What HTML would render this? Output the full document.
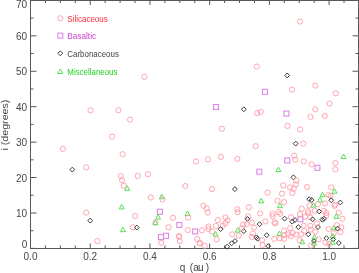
<!DOCTYPE html>
<html><head><meta charset="utf-8"><style>
html,body{margin:0;padding:0;background:#fff;width:359px;height:273px;overflow:hidden}
svg{display:block;will-change:transform}
text{font-family:"Liberation Sans",sans-serif}
</style></head><body>
<svg width="359" height="273" viewBox="0 0 359 273" font-family="Liberation Sans, sans-serif"><rect x="30.5" y="0.5" width="328" height="248" fill="none" stroke="#585858" stroke-width="1"/><line x1="30.50" y1="248.5" x2="30.50" y2="243.5" stroke="#585858"/><line x1="30.50" y1="0" x2="30.50" y2="5" stroke="#585858"/><line x1="45.43" y1="248.5" x2="45.43" y2="245.5" stroke="#585858"/><line x1="45.43" y1="0" x2="45.43" y2="3" stroke="#585858"/><line x1="60.36" y1="248.5" x2="60.36" y2="245.5" stroke="#585858"/><line x1="60.36" y1="0" x2="60.36" y2="3" stroke="#585858"/><line x1="75.29" y1="248.5" x2="75.29" y2="245.5" stroke="#585858"/><line x1="75.29" y1="0" x2="75.29" y2="3" stroke="#585858"/><line x1="90.22" y1="248.5" x2="90.22" y2="243.5" stroke="#585858"/><line x1="90.22" y1="0" x2="90.22" y2="5" stroke="#585858"/><line x1="105.15" y1="248.5" x2="105.15" y2="245.5" stroke="#585858"/><line x1="105.15" y1="0" x2="105.15" y2="3" stroke="#585858"/><line x1="120.08" y1="248.5" x2="120.08" y2="245.5" stroke="#585858"/><line x1="120.08" y1="0" x2="120.08" y2="3" stroke="#585858"/><line x1="135.01" y1="248.5" x2="135.01" y2="245.5" stroke="#585858"/><line x1="135.01" y1="0" x2="135.01" y2="3" stroke="#585858"/><line x1="149.94" y1="248.5" x2="149.94" y2="243.5" stroke="#585858"/><line x1="149.94" y1="0" x2="149.94" y2="5" stroke="#585858"/><line x1="164.87" y1="248.5" x2="164.87" y2="245.5" stroke="#585858"/><line x1="164.87" y1="0" x2="164.87" y2="3" stroke="#585858"/><line x1="179.80" y1="248.5" x2="179.80" y2="245.5" stroke="#585858"/><line x1="179.80" y1="0" x2="179.80" y2="3" stroke="#585858"/><line x1="194.73" y1="248.5" x2="194.73" y2="245.5" stroke="#585858"/><line x1="194.73" y1="0" x2="194.73" y2="3" stroke="#585858"/><line x1="209.66" y1="248.5" x2="209.66" y2="243.5" stroke="#585858"/><line x1="209.66" y1="0" x2="209.66" y2="5" stroke="#585858"/><line x1="224.59" y1="248.5" x2="224.59" y2="245.5" stroke="#585858"/><line x1="224.59" y1="0" x2="224.59" y2="3" stroke="#585858"/><line x1="239.52" y1="248.5" x2="239.52" y2="245.5" stroke="#585858"/><line x1="239.52" y1="0" x2="239.52" y2="3" stroke="#585858"/><line x1="254.45" y1="248.5" x2="254.45" y2="245.5" stroke="#585858"/><line x1="254.45" y1="0" x2="254.45" y2="3" stroke="#585858"/><line x1="269.38" y1="248.5" x2="269.38" y2="243.5" stroke="#585858"/><line x1="269.38" y1="0" x2="269.38" y2="5" stroke="#585858"/><line x1="284.31" y1="248.5" x2="284.31" y2="245.5" stroke="#585858"/><line x1="284.31" y1="0" x2="284.31" y2="3" stroke="#585858"/><line x1="299.24" y1="248.5" x2="299.24" y2="245.5" stroke="#585858"/><line x1="299.24" y1="0" x2="299.24" y2="3" stroke="#585858"/><line x1="314.17" y1="248.5" x2="314.17" y2="245.5" stroke="#585858"/><line x1="314.17" y1="0" x2="314.17" y2="3" stroke="#585858"/><line x1="329.10" y1="248.5" x2="329.10" y2="243.5" stroke="#585858"/><line x1="329.10" y1="0" x2="329.10" y2="5" stroke="#585858"/><line x1="344.03" y1="248.5" x2="344.03" y2="245.5" stroke="#585858"/><line x1="344.03" y1="0" x2="344.03" y2="3" stroke="#585858"/><line x1="30.5" y1="248.40" x2="36.5" y2="248.40" stroke="#585858"/><line x1="358.5" y1="248.40" x2="352.5" y2="248.40" stroke="#585858"/><line x1="30.5" y1="230.69" x2="33.5" y2="230.69" stroke="#585858"/><line x1="358.5" y1="230.69" x2="355.5" y2="230.69" stroke="#585858"/><line x1="30.5" y1="212.97" x2="36.5" y2="212.97" stroke="#585858"/><line x1="358.5" y1="212.97" x2="352.5" y2="212.97" stroke="#585858"/><line x1="30.5" y1="195.25" x2="33.5" y2="195.25" stroke="#585858"/><line x1="358.5" y1="195.25" x2="355.5" y2="195.25" stroke="#585858"/><line x1="30.5" y1="177.54" x2="36.5" y2="177.54" stroke="#585858"/><line x1="358.5" y1="177.54" x2="352.5" y2="177.54" stroke="#585858"/><line x1="30.5" y1="159.82" x2="33.5" y2="159.82" stroke="#585858"/><line x1="358.5" y1="159.82" x2="355.5" y2="159.82" stroke="#585858"/><line x1="30.5" y1="142.11" x2="36.5" y2="142.11" stroke="#585858"/><line x1="358.5" y1="142.11" x2="352.5" y2="142.11" stroke="#585858"/><line x1="30.5" y1="124.39" x2="33.5" y2="124.39" stroke="#585858"/><line x1="358.5" y1="124.39" x2="355.5" y2="124.39" stroke="#585858"/><line x1="30.5" y1="106.68" x2="36.5" y2="106.68" stroke="#585858"/><line x1="358.5" y1="106.68" x2="352.5" y2="106.68" stroke="#585858"/><line x1="30.5" y1="88.97" x2="33.5" y2="88.97" stroke="#585858"/><line x1="358.5" y1="88.97" x2="355.5" y2="88.97" stroke="#585858"/><line x1="30.5" y1="71.25" x2="36.5" y2="71.25" stroke="#585858"/><line x1="358.5" y1="71.25" x2="352.5" y2="71.25" stroke="#585858"/><line x1="30.5" y1="53.53" x2="33.5" y2="53.53" stroke="#585858"/><line x1="358.5" y1="53.53" x2="355.5" y2="53.53" stroke="#585858"/><line x1="30.5" y1="35.82" x2="36.5" y2="35.82" stroke="#585858"/><line x1="358.5" y1="35.82" x2="352.5" y2="35.82" stroke="#585858"/><line x1="30.5" y1="18.10" x2="33.5" y2="18.10" stroke="#585858"/><line x1="358.5" y1="18.10" x2="355.5" y2="18.10" stroke="#585858"/><line x1="30.5" y1="0.39" x2="36.5" y2="0.39" stroke="#585858"/><line x1="358.5" y1="0.39" x2="352.5" y2="0.39" stroke="#585858"/><text x="27.2" y="248.40" fill="#474747" font-size="10" text-anchor="end" >0</text><text x="27.2" y="216.97" fill="#474747" font-size="10" text-anchor="end" >10</text><text x="27.2" y="181.54" fill="#474747" font-size="10" text-anchor="end" >20</text><text x="27.2" y="146.11" fill="#474747" font-size="10" text-anchor="end" >30</text><text x="27.2" y="110.68" fill="#474747" font-size="10" text-anchor="end" >40</text><text x="27.2" y="75.25" fill="#474747" font-size="10" text-anchor="end" >50</text><text x="27.2" y="39.82" fill="#474747" font-size="10" text-anchor="end" >60</text><text x="27.2" y="7.60" fill="#474747" font-size="10" text-anchor="end" textLength="11.3" lengthAdjust="spacingAndGlyphs" >70</text><text x="30.50" y="259.5" fill="#474747" font-size="10" text-anchor="middle" >0.0</text><text x="90.22" y="259.5" fill="#474747" font-size="10" text-anchor="middle" >0.2</text><text x="149.94" y="259.5" fill="#474747" font-size="10" text-anchor="middle" >0.4</text><text x="209.66" y="259.5" fill="#474747" font-size="10" text-anchor="middle" >0.6</text><text x="269.38" y="259.5" fill="#474747" font-size="10" text-anchor="middle" >0.8</text><text x="329.10" y="259.5" fill="#474747" font-size="10" text-anchor="middle" >1.0</text><text x="179.7 189.7 193.2 198.1 205.7" y="271" fill="#474747" font-size="10">q(au)</text><text x="0" y="0" fill="#474747" font-size="9.6" textLength="51" lengthAdjust="spacingAndGlyphs" transform="translate(8.3,150.6) rotate(-90)">i (degrees)</text><circle cx="60.3" cy="18.3" r="2.6" fill="none" stroke="#ff96a2" stroke-width="0.85"/><text x="67.3" y="21.6" fill="#ff2a3c" font-size="8.8" text-anchor="start" textLength="40.4" lengthAdjust="spacingAndGlyphs" >Silicaceous</text><rect x="57.80" y="33.10" width="5" height="5" fill="none" stroke="#e088e6" stroke-width="1.1"/><text x="67.3" y="39.0" fill="#cc44cc" font-size="8.8" text-anchor="start" textLength="28.8" lengthAdjust="spacingAndGlyphs" >Basaltic</text><path d="M60.3 50.85L62.70 53.3L60.3 55.75L57.90 53.3Z" fill="none" stroke="#3a3a3a" stroke-width="1" stroke-linejoin="round"/><text x="67.3" y="56.9" fill="#444" font-size="8.8" text-anchor="start" textLength="51.6" lengthAdjust="spacingAndGlyphs" >Carbonaceous</text><path d="M60.3 69.00L62.80 73.50L57.80 73.50Z" fill="none" stroke="#55e055" stroke-width="1.0" stroke-linejoin="round"/><text x="67.3" y="74.5" fill="#22d022" font-size="8.8" text-anchor="start" textLength="50.2" lengthAdjust="spacingAndGlyphs" >Miscellaneous</text><circle cx="300" cy="21.5" r="2.6" fill="none" stroke="#ff96a2" stroke-width="0.85"/><circle cx="256.8" cy="66.6" r="2.6" fill="none" stroke="#ff96a2" stroke-width="0.85"/><path d="M287.2 72.95L289.60 75.4L287.2 77.85L284.80 75.4Z" fill="none" stroke="#3a3a3a" stroke-width="1" stroke-linejoin="round"/><circle cx="144.4" cy="76.8" r="2.6" fill="none" stroke="#ff96a2" stroke-width="0.85"/><rect x="262.50" y="89.30" width="5" height="5" fill="none" stroke="#e088e6" stroke-width="1.1"/><circle cx="292" cy="89.6" r="2.6" fill="none" stroke="#ff96a2" stroke-width="0.85"/><circle cx="315.3" cy="85.6" r="2.6" fill="none" stroke="#ff96a2" stroke-width="0.85"/><circle cx="335.7" cy="93.3" r="2.6" fill="none" stroke="#ff96a2" stroke-width="0.85"/><circle cx="329.6" cy="103.5" r="2.6" fill="none" stroke="#ff96a2" stroke-width="0.85"/><rect x="213.50" y="104.50" width="5" height="5" fill="none" stroke="#e088e6" stroke-width="1.1"/><path d="M243.8 106.85L246.20 109.3L243.8 111.75L241.40 109.3Z" fill="none" stroke="#3a3a3a" stroke-width="1" stroke-linejoin="round"/><circle cx="257.2" cy="113.1" r="2.6" fill="none" stroke="#ff96a2" stroke-width="0.85"/><circle cx="260.7" cy="111.9" r="2.6" fill="none" stroke="#ff96a2" stroke-width="0.85"/><rect x="283.90" y="111.10" width="5" height="5" fill="none" stroke="#e088e6" stroke-width="1.1"/><circle cx="315.3" cy="109.3" r="2.6" fill="none" stroke="#ff96a2" stroke-width="0.85"/><circle cx="310.5" cy="116.9" r="2.6" fill="none" stroke="#ff96a2" stroke-width="0.85"/><circle cx="324.8" cy="115.9" r="2.6" fill="none" stroke="#ff96a2" stroke-width="0.85"/><circle cx="90.5" cy="110.4" r="2.6" fill="none" stroke="#ff96a2" stroke-width="0.85"/><circle cx="118.4" cy="110.3" r="2.6" fill="none" stroke="#ff96a2" stroke-width="0.85"/><circle cx="130" cy="119.6" r="2.6" fill="none" stroke="#ff96a2" stroke-width="0.85"/><circle cx="112.1" cy="136.6" r="2.6" fill="none" stroke="#ff96a2" stroke-width="0.85"/><circle cx="122.6" cy="154.2" r="2.6" fill="none" stroke="#ff96a2" stroke-width="0.85"/><circle cx="62.9" cy="148.9" r="2.6" fill="none" stroke="#ff96a2" stroke-width="0.85"/><circle cx="221.9" cy="128.8" r="2.6" fill="none" stroke="#ff96a2" stroke-width="0.85"/><circle cx="287.4" cy="125.9" r="2.6" fill="none" stroke="#ff96a2" stroke-width="0.85"/><circle cx="300.2" cy="129.4" r="2.6" fill="none" stroke="#ff96a2" stroke-width="0.85"/><path d="M295.7 141.15L298.10 143.6L295.7 146.05L293.30 143.6Z" fill="none" stroke="#3a3a3a" stroke-width="1" stroke-linejoin="round"/><circle cx="303.2" cy="143.6" r="2.6" fill="none" stroke="#ff96a2" stroke-width="0.85"/><circle cx="255.6" cy="146.2" r="2.6" fill="none" stroke="#ff96a2" stroke-width="0.85"/><path d="M72.3 167.15L74.70 169.6L72.3 172.05L69.90 169.6Z" fill="none" stroke="#3a3a3a" stroke-width="1" stroke-linejoin="round"/><circle cx="86.2" cy="167.4" r="2.6" fill="none" stroke="#ff96a2" stroke-width="0.85"/><circle cx="120.8" cy="176.1" r="2.6" fill="none" stroke="#ff96a2" stroke-width="0.85"/><circle cx="122.1" cy="180.4" r="2.6" fill="none" stroke="#ff96a2" stroke-width="0.85"/><circle cx="123.7" cy="185.8" r="2.6" fill="none" stroke="#ff96a2" stroke-width="0.85"/><path d="M127.2 185.80L129.70 190.30L124.70 190.30Z" fill="none" stroke="#55e055" stroke-width="1.0" stroke-linejoin="round"/><circle cx="137.7" cy="175.9" r="2.6" fill="none" stroke="#ff96a2" stroke-width="0.85"/><circle cx="147.9" cy="174.2" r="2.6" fill="none" stroke="#ff96a2" stroke-width="0.85"/><circle cx="196.1" cy="161.4" r="2.6" fill="none" stroke="#ff96a2" stroke-width="0.85"/><circle cx="208" cy="159.4" r="2.6" fill="none" stroke="#ff96a2" stroke-width="0.85"/><circle cx="185.3" cy="186" r="2.6" fill="none" stroke="#ff96a2" stroke-width="0.85"/><circle cx="220.9" cy="156.9" r="2.6" fill="none" stroke="#ff96a2" stroke-width="0.85"/><circle cx="237.3" cy="158.9" r="2.6" fill="none" stroke="#ff96a2" stroke-width="0.85"/><rect x="256.80" y="169.20" width="5" height="5" fill="none" stroke="#e088e6" stroke-width="1.1"/><circle cx="212.1" cy="189.1" r="2.6" fill="none" stroke="#ff96a2" stroke-width="0.85"/><path d="M234.9 186.65L237.30 189.1L234.9 191.55L232.50 189.1Z" fill="none" stroke="#3a3a3a" stroke-width="1" stroke-linejoin="round"/><circle cx="267.5" cy="192.7" r="2.6" fill="none" stroke="#ff96a2" stroke-width="0.85"/><circle cx="294.1" cy="155.6" r="2.6" fill="none" stroke="#ff96a2" stroke-width="0.85"/><circle cx="295.3" cy="159.9" r="2.6" fill="none" stroke="#ff96a2" stroke-width="0.85"/><rect x="284.70" y="157.90" width="5" height="5" fill="none" stroke="#e088e6" stroke-width="1.1"/><circle cx="303.8" cy="161.4" r="2.6" fill="none" stroke="#ff96a2" stroke-width="0.85"/><circle cx="311.6" cy="164.3" r="2.6" fill="none" stroke="#ff96a2" stroke-width="0.85"/><rect x="314.90" y="165.30" width="5" height="5" fill="none" stroke="#e088e6" stroke-width="1.1"/><path d="M278.4 167.10L280.90 171.60L275.90 171.60Z" fill="none" stroke="#55e055" stroke-width="1.0" stroke-linejoin="round"/><path d="M293.4 174.85L295.80 177.3L293.4 179.75L291.00 177.3Z" fill="none" stroke="#3a3a3a" stroke-width="1" stroke-linejoin="round"/><circle cx="296.3" cy="180.6" r="2.6" fill="none" stroke="#ff96a2" stroke-width="0.85"/><circle cx="296" cy="184.4" r="2.6" fill="none" stroke="#ff96a2" stroke-width="0.85"/><circle cx="283.2" cy="185.4" r="2.6" fill="none" stroke="#ff96a2" stroke-width="0.85"/><circle cx="290.1" cy="187.4" r="2.6" fill="none" stroke="#ff96a2" stroke-width="0.85"/><circle cx="293.7" cy="188.7" r="2.6" fill="none" stroke="#ff96a2" stroke-width="0.85"/><circle cx="292.3" cy="192.9" r="2.6" fill="none" stroke="#ff96a2" stroke-width="0.85"/><circle cx="282" cy="193.6" r="2.6" fill="none" stroke="#ff96a2" stroke-width="0.85"/><circle cx="307.1" cy="187" r="2.6" fill="none" stroke="#ff96a2" stroke-width="0.85"/><path d="M343.5 154.00L346.00 158.50L341.00 158.50Z" fill="none" stroke="#55e055" stroke-width="1.0" stroke-linejoin="round"/><circle cx="335.3" cy="163" r="2.6" fill="none" stroke="#ff96a2" stroke-width="0.85"/><circle cx="335.3" cy="169.4" r="2.6" fill="none" stroke="#ff96a2" stroke-width="0.85"/><circle cx="86.2" cy="212.6" r="2.6" fill="none" stroke="#ff96a2" stroke-width="0.85"/><path d="M90.2 218.15L92.60 220.6L90.2 223.05L87.80 220.6Z" fill="none" stroke="#3a3a3a" stroke-width="1" stroke-linejoin="round"/><path d="M121.7 204.40L124.20 208.90L119.20 208.90Z" fill="none" stroke="#55e055" stroke-width="1.0" stroke-linejoin="round"/><path d="M122.9 227.20L125.40 231.70L120.40 231.70Z" fill="none" stroke="#55e055" stroke-width="1.0" stroke-linejoin="round"/><circle cx="135.1" cy="216" r="2.6" fill="none" stroke="#ff96a2" stroke-width="0.85"/><circle cx="132.8" cy="227.3" r="2.6" fill="none" stroke="#ff96a2" stroke-width="0.85"/><path d="M136.8 225.15L139.20 227.6L136.8 230.05L134.40 227.6Z" fill="none" stroke="#3a3a3a" stroke-width="1" stroke-linejoin="round"/><circle cx="97.4" cy="241.1" r="2.6" fill="none" stroke="#ff96a2" stroke-width="0.85"/><circle cx="150.8" cy="197.5" r="2.6" fill="none" stroke="#ff96a2" stroke-width="0.85"/><path d="M161.8 194.20L164.30 198.70L159.30 198.70Z" fill="none" stroke="#55e055" stroke-width="1.0" stroke-linejoin="round"/><circle cx="162.5" cy="199.5" r="2.6" fill="none" stroke="#ff96a2" stroke-width="0.85"/><rect x="157.40" y="209.20" width="5" height="5" fill="none" stroke="#e088e6" stroke-width="1.1"/><path d="M158.1 214.60L160.60 219.10L155.60 219.10Z" fill="none" stroke="#55e055" stroke-width="1.0" stroke-linejoin="round"/><circle cx="155.4" cy="222.4" r="2.6" fill="none" stroke="#ff96a2" stroke-width="0.85"/><path d="M155.4 220.30L157.90 224.80L152.90 224.80Z" fill="none" stroke="#55e055" stroke-width="1.0" stroke-linejoin="round"/><circle cx="168.7" cy="227.3" r="2.6" fill="none" stroke="#ff96a2" stroke-width="0.85"/><rect x="158.50" y="234.60" width="5" height="5" fill="none" stroke="#e088e6" stroke-width="1.1"/><rect x="163.50" y="233.30" width="5" height="5" fill="none" stroke="#e088e6" stroke-width="1.1"/><circle cx="161.2" cy="242.8" r="2.6" fill="none" stroke="#ff96a2" stroke-width="0.85"/><path d="M187.5 211.10L190.00 215.60L185.00 215.60Z" fill="none" stroke="#55e055" stroke-width="1.0" stroke-linejoin="round"/><circle cx="173" cy="217.8" r="2.6" fill="none" stroke="#ff96a2" stroke-width="0.85"/><circle cx="188.2" cy="217.6" r="2.6" fill="none" stroke="#ff96a2" stroke-width="0.85"/><rect x="176.80" y="222.50" width="5" height="5" fill="none" stroke="#e088e6" stroke-width="1.1"/><circle cx="187.8" cy="230.1" r="2.6" fill="none" stroke="#ff96a2" stroke-width="0.85"/><rect x="192.60" y="229.00" width="5" height="5" fill="none" stroke="#e088e6" stroke-width="1.1"/><circle cx="202" cy="230.3" r="2.6" fill="none" stroke="#ff96a2" stroke-width="0.85"/><circle cx="178.9" cy="236.5" r="2.6" fill="none" stroke="#ff96a2" stroke-width="0.85"/><circle cx="179.8" cy="241.2" r="2.6" fill="none" stroke="#ff96a2" stroke-width="0.85"/><circle cx="197.3" cy="239" r="2.6" fill="none" stroke="#ff96a2" stroke-width="0.85"/><circle cx="199.5" cy="243.1" r="2.6" fill="none" stroke="#ff96a2" stroke-width="0.85"/><circle cx="204.8" cy="245.8" r="2.6" fill="none" stroke="#ff96a2" stroke-width="0.85"/><circle cx="203.4" cy="205.8" r="2.6" fill="none" stroke="#ff96a2" stroke-width="0.85"/><circle cx="206.7" cy="208.3" r="2.6" fill="none" stroke="#ff96a2" stroke-width="0.85"/><circle cx="207.6" cy="212.6" r="2.6" fill="none" stroke="#ff96a2" stroke-width="0.85"/><circle cx="237.3" cy="209.2" r="2.6" fill="none" stroke="#ff96a2" stroke-width="0.85"/><circle cx="237.6" cy="212.2" r="2.6" fill="none" stroke="#ff96a2" stroke-width="0.85"/><circle cx="225.5" cy="217.5" r="2.6" fill="none" stroke="#ff96a2" stroke-width="0.85"/><circle cx="227.5" cy="220.2" r="2.6" fill="none" stroke="#ff96a2" stroke-width="0.85"/><circle cx="217.9" cy="220.2" r="2.6" fill="none" stroke="#ff96a2" stroke-width="0.85"/><circle cx="225.3" cy="223.3" r="2.6" fill="none" stroke="#ff96a2" stroke-width="0.85"/><circle cx="222.9" cy="225.6" r="2.6" fill="none" stroke="#ff96a2" stroke-width="0.85"/><circle cx="216" cy="226" r="2.6" fill="none" stroke="#ff96a2" stroke-width="0.85"/><circle cx="208.4" cy="226.6" r="2.6" fill="none" stroke="#ff96a2" stroke-width="0.85"/><circle cx="208.5" cy="229" r="2.6" fill="none" stroke="#ff96a2" stroke-width="0.85"/><path d="M220.6 226.65L223.00 229.1L220.6 231.55L218.20 229.1Z" fill="none" stroke="#3a3a3a" stroke-width="1" stroke-linejoin="round"/><circle cx="212" cy="231.5" r="2.6" fill="none" stroke="#ff96a2" stroke-width="0.85"/><path d="M215.6 231.50L218.10 236.00L213.10 236.00Z" fill="none" stroke="#55e055" stroke-width="1.0" stroke-linejoin="round"/><circle cx="216.7" cy="239.3" r="2.6" fill="none" stroke="#ff96a2" stroke-width="0.85"/><circle cx="200.2" cy="243.4" r="2.6" fill="none" stroke="#ff96a2" stroke-width="0.85"/><circle cx="232.2" cy="234.4" r="2.6" fill="none" stroke="#ff96a2" stroke-width="0.85"/><path d="M237.8 227.60L240.30 232.10L235.30 232.10Z" fill="none" stroke="#55e055" stroke-width="1.0" stroke-linejoin="round"/><circle cx="238.8" cy="235.7" r="2.6" fill="none" stroke="#ff96a2" stroke-width="0.85"/><path d="M235 238.55L237.40 241L235 243.45L232.60 241Z" fill="none" stroke="#3a3a3a" stroke-width="1" stroke-linejoin="round"/><path d="M231.6 240.85L234.00 243.3L231.6 245.75L229.20 243.3Z" fill="none" stroke="#3a3a3a" stroke-width="1" stroke-linejoin="round"/><path d="M227.2 244.35L229.60 246.8L227.2 249.25L224.80 246.8Z" fill="none" stroke="#3a3a3a" stroke-width="1" stroke-linejoin="round"/><path d="M243.8 228.75L246.20 231.2L243.8 233.65L241.40 231.2Z" fill="none" stroke="#3a3a3a" stroke-width="1" stroke-linejoin="round"/><path d="M261.2 198.30L263.70 202.80L258.70 202.80Z" fill="none" stroke="#55e055" stroke-width="1.0" stroke-linejoin="round"/><circle cx="248.9" cy="207.2" r="2.6" fill="none" stroke="#ff96a2" stroke-width="0.85"/><circle cx="260.2" cy="213.4" r="2.6" fill="none" stroke="#ff96a2" stroke-width="0.85"/><circle cx="272.5" cy="213.9" r="2.6" fill="none" stroke="#ff96a2" stroke-width="0.85"/><circle cx="248.1" cy="216.4" r="2.6" fill="none" stroke="#ff96a2" stroke-width="0.85"/><path d="M247.4 216.35L249.80 218.8L247.4 221.25L245.00 218.8Z" fill="none" stroke="#3a3a3a" stroke-width="1" stroke-linejoin="round"/><circle cx="252" cy="222.6" r="2.6" fill="none" stroke="#ff96a2" stroke-width="0.85"/><circle cx="246.7" cy="224" r="2.6" fill="none" stroke="#ff96a2" stroke-width="0.85"/><circle cx="243" cy="224.6" r="2.6" fill="none" stroke="#ff96a2" stroke-width="0.85"/><path d="M259.6 221.75L262.00 224.2L259.6 226.65L257.20 224.2Z" fill="none" stroke="#3a3a3a" stroke-width="1" stroke-linejoin="round"/><circle cx="254" cy="227.6" r="2.6" fill="none" stroke="#ff96a2" stroke-width="0.85"/><circle cx="241.7" cy="228.2" r="2.6" fill="none" stroke="#ff96a2" stroke-width="0.85"/><circle cx="265.5" cy="221.4" r="2.6" fill="none" stroke="#ff96a2" stroke-width="0.85"/><circle cx="252.9" cy="233.5" r="2.6" fill="none" stroke="#ff96a2" stroke-width="0.85"/><circle cx="251.8" cy="237" r="2.6" fill="none" stroke="#ff96a2" stroke-width="0.85"/><path d="M256.5 234.85L258.90 237.3L256.5 239.75L254.10 237.3Z" fill="none" stroke="#3a3a3a" stroke-width="1" stroke-linejoin="round"/><path d="M257.6 236.35L260.00 238.8L257.6 241.25L255.20 238.8Z" fill="none" stroke="#3a3a3a" stroke-width="1" stroke-linejoin="round"/><path d="M266.7 232.75L269.10 235.2L266.7 237.65L264.30 235.2Z" fill="none" stroke="#3a3a3a" stroke-width="1" stroke-linejoin="round"/><circle cx="262.1" cy="240.3" r="2.6" fill="none" stroke="#ff96a2" stroke-width="0.85"/><circle cx="262.6" cy="245" r="2.6" fill="none" stroke="#ff96a2" stroke-width="0.85"/><path d="M268.2 243.65L270.60 246.1L268.2 248.55L265.80 246.1Z" fill="none" stroke="#3a3a3a" stroke-width="1" stroke-linejoin="round"/><circle cx="277.5" cy="200.8" r="2.6" fill="none" stroke="#ff96a2" stroke-width="0.85"/><circle cx="284.1" cy="202.1" r="2.6" fill="none" stroke="#ff96a2" stroke-width="0.85"/><path d="M280 203.20L282.50 207.70L277.50 207.70Z" fill="none" stroke="#55e055" stroke-width="1.0" stroke-linejoin="round"/><circle cx="278.5" cy="212" r="2.6" fill="none" stroke="#ff96a2" stroke-width="0.85"/><circle cx="280.3" cy="213.8" r="2.6" fill="none" stroke="#ff96a2" stroke-width="0.85"/><circle cx="272.8" cy="216.3" r="2.6" fill="none" stroke="#ff96a2" stroke-width="0.85"/><circle cx="274.5" cy="222.3" r="2.6" fill="none" stroke="#ff96a2" stroke-width="0.85"/><path d="M284.6 216.15L287.00 218.6L284.6 221.05L282.20 218.6Z" fill="none" stroke="#3a3a3a" stroke-width="1" stroke-linejoin="round"/><circle cx="291" cy="217.2" r="2.6" fill="none" stroke="#ff96a2" stroke-width="0.85"/><path d="M292.2 219.25L294.60 221.7L292.2 224.15L289.80 221.7Z" fill="none" stroke="#3a3a3a" stroke-width="1" stroke-linejoin="round"/><path d="M295 217.55L297.40 220L295 222.45L292.60 220Z" fill="none" stroke="#3a3a3a" stroke-width="1" stroke-linejoin="round"/><rect x="297.90" y="216.80" width="5" height="5" fill="none" stroke="#e088e6" stroke-width="1.1"/><circle cx="301.7" cy="208.8" r="2.6" fill="none" stroke="#ff96a2" stroke-width="0.85"/><circle cx="300" cy="214" r="2.6" fill="none" stroke="#ff96a2" stroke-width="0.85"/><circle cx="275.3" cy="223.5" r="2.6" fill="none" stroke="#ff96a2" stroke-width="0.85"/><path d="M279.4 231.00L281.90 235.50L276.90 235.50Z" fill="none" stroke="#55e055" stroke-width="1.0" stroke-linejoin="round"/><circle cx="274.3" cy="238.9" r="2.6" fill="none" stroke="#ff96a2" stroke-width="0.85"/><circle cx="279.9" cy="238.4" r="2.6" fill="none" stroke="#ff96a2" stroke-width="0.85"/><circle cx="284" cy="230.7" r="2.6" fill="none" stroke="#ff96a2" stroke-width="0.85"/><circle cx="284.4" cy="235" r="2.6" fill="none" stroke="#ff96a2" stroke-width="0.85"/><circle cx="284" cy="238.9" r="2.6" fill="none" stroke="#ff96a2" stroke-width="0.85"/><circle cx="288.1" cy="234.3" r="2.6" fill="none" stroke="#ff96a2" stroke-width="0.85"/><circle cx="290.2" cy="228.1" r="2.6" fill="none" stroke="#ff96a2" stroke-width="0.85"/><circle cx="290.7" cy="236.3" r="2.6" fill="none" stroke="#ff96a2" stroke-width="0.85"/><path d="M322.6 192.20L325.10 196.70L320.10 196.70Z" fill="none" stroke="#55e055" stroke-width="1.0" stroke-linejoin="round"/><path d="M320 197.30L322.50 201.80L317.50 201.80Z" fill="none" stroke="#55e055" stroke-width="1.0" stroke-linejoin="round"/><path d="M313.4 202.70L315.90 207.20L310.90 207.20Z" fill="none" stroke="#55e055" stroke-width="1.0" stroke-linejoin="round"/><path d="M309.2 196.75L311.60 199.2L309.2 201.65L306.80 199.2Z" fill="none" stroke="#3a3a3a" stroke-width="1" stroke-linejoin="round"/><path d="M311.7 197.55L314.10 200L311.7 202.45L309.30 200Z" fill="none" stroke="#3a3a3a" stroke-width="1" stroke-linejoin="round"/><circle cx="309.6" cy="205.5" r="2.6" fill="none" stroke="#ff96a2" stroke-width="0.85"/><circle cx="318" cy="204.2" r="2.6" fill="none" stroke="#ff96a2" stroke-width="0.85"/><circle cx="325" cy="203.4" r="2.6" fill="none" stroke="#ff96a2" stroke-width="0.85"/><circle cx="328.4" cy="195" r="2.6" fill="none" stroke="#ff96a2" stroke-width="0.85"/><circle cx="308" cy="211.3" r="2.6" fill="none" stroke="#ff96a2" stroke-width="0.85"/><circle cx="314.6" cy="210.9" r="2.6" fill="none" stroke="#ff96a2" stroke-width="0.85"/><circle cx="323.8" cy="210.9" r="2.6" fill="none" stroke="#ff96a2" stroke-width="0.85"/><path d="M319.2 209.05L321.60 211.5L319.2 213.95L316.80 211.5Z" fill="none" stroke="#3a3a3a" stroke-width="1" stroke-linejoin="round"/><circle cx="308.4" cy="213.4" r="2.6" fill="none" stroke="#ff96a2" stroke-width="0.85"/><circle cx="331.2" cy="187.4" r="2.6" fill="none" stroke="#ff96a2" stroke-width="0.85"/><path d="M334.5 188.70L337.00 193.20L332.00 193.20Z" fill="none" stroke="#55e055" stroke-width="1.0" stroke-linejoin="round"/><circle cx="330.7" cy="195.9" r="2.6" fill="none" stroke="#ff96a2" stroke-width="0.85"/><path d="M331.2 197.75L333.60 200.2L331.2 202.65L328.80 200.2Z" fill="none" stroke="#3a3a3a" stroke-width="1" stroke-linejoin="round"/><path d="M340.3 200.05L342.70 202.5L340.3 204.95L337.90 202.5Z" fill="none" stroke="#3a3a3a" stroke-width="1" stroke-linejoin="round"/><circle cx="334.5" cy="205.8" r="2.6" fill="none" stroke="#ff96a2" stroke-width="0.85"/><circle cx="335.4" cy="204.6" r="2.6" fill="none" stroke="#ff96a2" stroke-width="0.85"/><circle cx="338.7" cy="212.6" r="2.6" fill="none" stroke="#ff96a2" stroke-width="0.85"/><path d="M336.4 213.80L338.90 218.30L333.90 218.30Z" fill="none" stroke="#55e055" stroke-width="1.0" stroke-linejoin="round"/><circle cx="342.5" cy="218.7" r="2.6" fill="none" stroke="#ff96a2" stroke-width="0.85"/><circle cx="326.4" cy="213" r="2.6" fill="none" stroke="#ff96a2" stroke-width="0.85"/><circle cx="326.4" cy="215.4" r="2.6" fill="none" stroke="#ff96a2" stroke-width="0.85"/><circle cx="328.6" cy="229" r="2.6" fill="none" stroke="#ff96a2" stroke-width="0.85"/><path d="M333.8 225.30L336.30 229.80L331.30 229.80Z" fill="none" stroke="#55e055" stroke-width="1.0" stroke-linejoin="round"/><circle cx="336.9" cy="225.2" r="2.6" fill="none" stroke="#ff96a2" stroke-width="0.85"/><circle cx="341.3" cy="227.6" r="2.6" fill="none" stroke="#ff96a2" stroke-width="0.85"/><circle cx="340.4" cy="232.2" r="2.6" fill="none" stroke="#ff96a2" stroke-width="0.85"/><circle cx="333.7" cy="233.3" r="2.6" fill="none" stroke="#ff96a2" stroke-width="0.85"/><path d="M332.7 233.50L335.20 238.00L330.20 238.00Z" fill="none" stroke="#55e055" stroke-width="1.0" stroke-linejoin="round"/><path d="M326.4 235.75L328.80 238.2L326.4 240.65L324.00 238.2Z" fill="none" stroke="#3a3a3a" stroke-width="1" stroke-linejoin="round"/><path d="M333.2 236.95L335.60 239.4L333.2 241.85L330.80 239.4Z" fill="none" stroke="#3a3a3a" stroke-width="1" stroke-linejoin="round"/><path d="M332.7 239.70L335.20 244.20L330.20 244.20Z" fill="none" stroke="#55e055" stroke-width="1.0" stroke-linejoin="round"/><path d="M338.8 240.55L341.20 243L338.8 245.45L336.40 243Z" fill="none" stroke="#3a3a3a" stroke-width="1" stroke-linejoin="round"/><circle cx="329.1" cy="244" r="2.6" fill="none" stroke="#ff96a2" stroke-width="0.85"/><path d="M318 224.65L320.40 227.1L318 229.55L315.60 227.1Z" fill="none" stroke="#3a3a3a" stroke-width="1" stroke-linejoin="round"/><path d="M308.3 231.85L310.70 234.3L308.3 236.75L305.90 234.3Z" fill="none" stroke="#3a3a3a" stroke-width="1" stroke-linejoin="round"/><path d="M302.2 239.20L304.70 243.70L299.70 243.70Z" fill="none" stroke="#55e055" stroke-width="1.0" stroke-linejoin="round"/><path d="M314.5 234.60L317.00 239.10L312.00 239.10Z" fill="none" stroke="#55e055" stroke-width="1.0" stroke-linejoin="round"/><path d="M314 240.70L316.50 245.20L311.50 245.20Z" fill="none" stroke="#55e055" stroke-width="1.0" stroke-linejoin="round"/><path d="M314 238.55L316.40 241L314 243.45L311.60 241Z" fill="none" stroke="#3a3a3a" stroke-width="1" stroke-linejoin="round"/><circle cx="318.6" cy="239.4" r="2.6" fill="none" stroke="#ff96a2" stroke-width="0.85"/><circle cx="299.6" cy="240.4" r="2.6" fill="none" stroke="#ff96a2" stroke-width="0.85"/><circle cx="310.9" cy="245.6" r="2.6" fill="none" stroke="#ff96a2" stroke-width="0.85"/><circle cx="325.2" cy="242.5" r="2.6" fill="none" stroke="#ff96a2" stroke-width="0.85"/><circle cx="305" cy="216.7" r="2.6" fill="none" stroke="#ff96a2" stroke-width="0.85"/><circle cx="310" cy="217.1" r="2.6" fill="none" stroke="#ff96a2" stroke-width="0.85"/><circle cx="303.7" cy="225.9" r="2.6" fill="none" stroke="#ff96a2" stroke-width="0.85"/><circle cx="310.4" cy="225.9" r="2.6" fill="none" stroke="#ff96a2" stroke-width="0.85"/><circle cx="317" cy="223.4" r="2.6" fill="none" stroke="#ff96a2" stroke-width="0.85"/><circle cx="304.1" cy="230.9" r="2.6" fill="none" stroke="#ff96a2" stroke-width="0.85"/><circle cx="310.8" cy="229.6" r="2.6" fill="none" stroke="#ff96a2" stroke-width="0.85"/><circle cx="315.4" cy="231.7" r="2.6" fill="none" stroke="#ff96a2" stroke-width="0.85"/><circle cx="296.2" cy="234.6" r="2.6" fill="none" stroke="#ff96a2" stroke-width="0.85"/><circle cx="301.2" cy="234.2" r="2.6" fill="none" stroke="#ff96a2" stroke-width="0.85"/><circle cx="292.7" cy="233.1" r="2.6" fill="none" stroke="#ff96a2" stroke-width="0.85"/><path d="M322.2 217.25L324.60 219.7L322.2 222.15L319.80 219.7Z" fill="none" stroke="#3a3a3a" stroke-width="1" stroke-linejoin="round"/><path d="M324 216.35L326.40 218.8L324 221.25L321.60 218.8Z" fill="none" stroke="#3a3a3a" stroke-width="1" stroke-linejoin="round"/><path d="M312.6 216.85L315.00 219.3L312.6 221.75L310.20 219.3Z" fill="none" stroke="#3a3a3a" stroke-width="1" stroke-linejoin="round"/><path d="M298.3 224.65L300.70 227.1L298.3 229.55L295.90 227.1Z" fill="none" stroke="#3a3a3a" stroke-width="1" stroke-linejoin="round"/><circle cx="179.1" cy="236.3" r="2.6" fill="none" stroke="#ff96a2" stroke-width="0.85"/><path d="M337.5 226.15L339.90 228.6L337.5 231.05L335.10 228.6Z" fill="none" stroke="#3a3a3a" stroke-width="1" stroke-linejoin="round"/></svg>
</body></html>
